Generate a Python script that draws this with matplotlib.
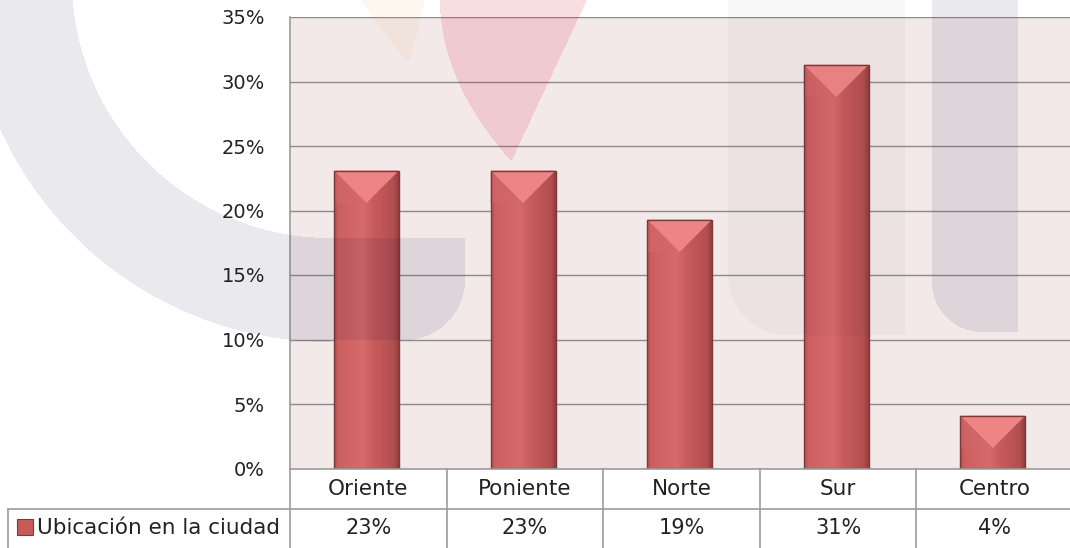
import numpy as np
import matplotlib
matplotlib.use('Agg')
import matplotlib.pyplot as plt
from matplotlib.patches import Rectangle, Polygon
from matplotlib.lines import Line2D
from matplotlib.transforms import blended_transform_factory
from matplotlib.colors import LinearSegmentedColormap

# ---------------- data ----------------
categories = ['Oriente', 'Poniente', 'Norte', 'Sur', 'Centro']
values = [23.1, 23.1, 19.3, 31.3, 4.1]
series_name = 'Ubicación en la ciudad'
yticks = [0, 5, 10, 15, 20, 25, 30, 35]

# ---------------- figure ----------------
W, H = 1070, 548
DPI = 100
plt.rcParams['font.family'] = ['DejaVu Sans']
fig = plt.figure(figsize=(W / DPI, H / DPI), dpi=DPI)
fig.patch.set_facecolor('white')

TXT = '#222222'
GRID = '#8c8c8c'
TABLE = '#9c9c9c'
FS = 14
FS_WORD = 15.5
FS_NUM = 15

L, R, T, B = 290, 1073, 17, 468.5
ax = fig.add_axes([L / W, 1 - B / H, (R - L) / W, (B - T) / H])
ax.set_xlim(-0.5, len(categories) - 0.5)
ax.set_ylim(0, yticks[-1])
ax.set_facecolor('#f3e9e9')
ax.set_yticks(yticks)
ax.set_yticklabels([f'{v}%' for v in yticks])
ax.set_xticks([])
ax.tick_params(axis='y', length=0, pad=18, labelsize=FS, labelcolor=TXT)
ax.yaxis.grid(True, color=GRID, lw=1.0)
ax.set_axisbelow(True)
for s in ['top', 'right', 'bottom']:
    ax.spines[s].set_visible(False)
ax.spines['left'].set_color(TABLE)
ax.spines['left'].set_linewidth(1.2)

# ---------------- bars ----------------
x = np.arange(len(categories))
bw = 0.415
bars = ax.bar(x - 0.012, values, bw, color='#c85a5a', edgecolor='none', zorder=3)

xr = ax.get_xlim()[1] - ax.get_xlim()[0]
yr = ax.get_ylim()[1] - ax.get_ylim()[0]
px_x = ax.bbox.width / xr
px_y = ax.bbox.height / yr
depth = (bw * px_x / 2) / px_y

cmap = LinearSegmentedColormap.from_list('bar', [
    (0.00, (0.70, 0.30, 0.30)),
    (0.06, (0.80, 0.37, 0.37)),
    (0.45, (0.84, 0.42, 0.42)),
    (0.60, (0.79, 0.36, 0.36)),
    (0.92, (0.70, 0.31, 0.31)),
    (1.00, (0.58, 0.24, 0.24)),
])
grad = np.linspace(0, 1, 256).reshape(1, -1)
for b in bars:
    x0, w, h = b.get_x(), b.get_width(), b.get_height()
    x1, xc = x0 + w, x0 + w / 2
    im = ax.imshow(grad, extent=(x0, x1, 0, h), cmap=cmap, aspect='auto',
                   zorder=3.1, interpolation='bilinear')
    im.set_clip_path(b)
    d = min(depth, h)
    ax.add_patch(Polygon([(x0, h), (x1, h), (xc, h - d)], closed=True,
                         facecolor='#ee8585', edgecolor='none', zorder=3.2))
    ax.add_patch(Polygon([(x0, h), (xc, h - d), (x0, h - d)], closed=True,
                         facecolor='#d46868', edgecolor='none', alpha=0.5, zorder=3.2))
    ax.add_patch(Rectangle((x0, 0), w, h, fill=False, edgecolor='#7a3a3a',
                           lw=1.0, zorder=3.3))
ax.set_xlim(-0.5, len(categories) - 0.5)
ax.set_ylim(0, yticks[-1])

# ---------------- data table ----------------
tb = blended_transform_factory(ax.transData, fig.transFigure)
def fy(py):
    return 1 - py / H

row1_bot = 509
bottom = H + 5
fig.add_artist(Line2D([-0.5, len(categories) - 0.5], [fy(B), fy(B)],
                      transform=tb, color=TABLE, lw=1.2, clip_on=False))
fig.add_artist(Line2D([8 / W, R / W], [fy(row1_bot), fy(row1_bot)],
                      transform=fig.transFigure, color=TABLE, lw=1.2))
for i in range(len(categories) + 1):
    fig.add_artist(Line2D([i - 0.5, i - 0.5], [fy(B), fy(bottom)],
                          transform=tb, color=TABLE, lw=1.2, clip_on=False))
fig.add_artist(Line2D([8 / W, 8 / W], [fy(row1_bot), fy(bottom)],
                      transform=fig.transFigure, color=TABLE, lw=1.2))

for i, (c, v) in enumerate(zip(categories, values)):
    fig.text(i, fy(489), c, transform=tb, ha='center', va='center',
             fontsize=FS_WORD, color=TXT)
    fig.text(i, fy(528), f'{round(v)}%', transform=tb, ha='center',
             va='center', fontsize=FS_NUM, color=TXT)
fig.text(37 / W, fy(528), series_name, ha='left', va='center',
         fontsize=FS_WORD, color=TXT)
fig.add_artist(Rectangle((17 / W, fy(535)), 16 / W, 16 / H,
                         transform=fig.transFigure, facecolor='#c85a5a',
                         edgecolor='#7a3a3a', lw=0.8))

# ---------------- watermark (decoration) ----------------
Y, X = np.mgrid[0:H, 0:W] + 0.5
wm = np.zeros((H, W, 4))
def add(mask, color, alpha):
    wm[mask, :3] = np.array(color) / 255.0
    wm[mask, 3] = np.maximum(wm[mask, 3], alpha)

grey = (0, 0, 60)
r = np.hypot(X - 330, Y + 20)
ring = (r > 258) & (r < 362) & (X <= 330)
band = (X >= 330) & (X <= 465) & (Y >= 238) & (Y <= 340)
band &= ~((X > 405) & (Y > 280) & (np.hypot(X - 405, Y - 280) > 60))
add(ring | band, grey, 0.085)

rb = (X >= 932) & (X <= 1018) & (Y <= 332)
rb &= ~((X < 982) & (Y > 282) & (np.hypot(X - 982, Y - 282) > 50))
add(rb, grey, 0.085)

lb = (X >= 728) & (X <= 905) & (Y <= 335)
lb &= ~((X < 788) & (Y > 275) & (np.hypot(X - 788, Y - 275) > 60))
add(lb, grey, 0.03)

t = Y / 160.0
heart = (Y <= 160) & (X >= 440 + 70 * t ** 2) & (X <= 587 - 75 * t)
add(heart, (214, 0, 29), 0.13)

t2 = Y / 60.0
tri = (Y <= 60) & (X >= 360 + 45 * t2) & (X <= 425 - 15 * t2)
add(tri, (230, 140, 40), 0.07)

fig.figimage(wm, xo=0, yo=0, origin='upper', zorder=20)

fig.savefig('out.png', dpi=DPI)
